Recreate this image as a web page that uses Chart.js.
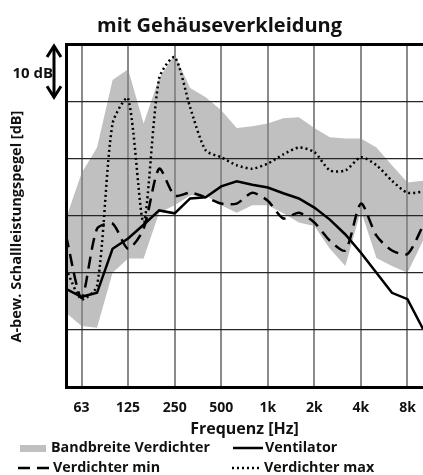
<!DOCTYPE html>
<html>
<head>
<meta charset="utf-8">
<script src="https://cdn.jsdelivr.net/npm/chart.js@4.4.1/dist/chart.umd.min.js"></script>
<style>
  html, body { margin: 0; padding: 0; background: #fff; }
</style>
</head>
<body>
<canvas id="chart" width="423" height="475"></canvas>
<script>
// third-octave bands, 50 Hz .. 10 kHz
const bands = ['50', '63', '80', '100', '125', '160', '200', '250', '315', '400', '500', '630',
  '800', '1k', '1.25k', '1.6k', '2k', '2.5k', '3.15k', '4k', '5k', '6.3k', '8k', '10k'];
const tickLabels = ['63', '125', '250', '500', '1k', '2k', '4k', '8k'];

// relative dB (no absolute scale in the original, 10 dB per grid line)
const ventilator = [17.2, 15.8, 16.5, 24.2, 26.0, 28.4, 30.9, 30.4, 33.0, 33.2, 35.1, 36.0,
  35.4, 34.9, 33.9, 33.0, 31.4, 29.3, 26.7, 23.5, 20.0, 16.5, 15.4, 10.2];
const verdichterMin = [26.5, 15.6, 27.7, 28.6, 24.2, 27.7, 38.2, 33.5, 34.0, 33.2, 32.1, 32.1,
  34.0, 32.6, 29.5, 30.5, 28.8, 25.6, 23.9, 32.1, 26.5, 23.9, 23.3, 28.2];
const verdichterMax = [20.7, 15.4, 17.7, 46.1, 50.5, 28.8, 54.0, 57.7, 48.9, 41.4, 40.2, 38.8,
  38.2, 39.1, 40.7, 41.9, 41.1, 37.9, 37.9, 40.2, 38.8, 36.1, 34.0, 34.2];
const bandUpper = [29.5, 37.4, 41.9, 53.7, 55.6, 46.1, 54.0, 58.1, 52.3, 50.7, 48.4, 45.3,
  45.6, 46.1, 47.0, 47.2, 45.3, 43.7, 43.5, 43.5, 41.9, 38.8, 35.8, 36.1];
const bandLower = [13.0, 10.7, 10.4, 20.0, 22.5, 22.5, 30.5, 31.8, 33.5, 33.5, 31.8, 30.5,
  31.8, 31.8, 30.4, 28.8, 28.2, 24.2, 21.2, 30.9, 22.6, 21.2, 20.0, 25.6];

const FONT = "'Open Sans', 'Noto Sans', sans-serif";
const bandColor = '#c0c0c0';
const chartTitle = 'mit Gehäuseverkleidung';
const xTitle = 'Frequenz [Hz]';
const yTitle = 'A-bew. Schallleistungspegel [dB]';

Chart.defaults.font.family = FONT;
Chart.defaults.font.weight = 'bold';
Chart.defaults.color = '#111';

// titles, "10 dB" marker and the two-column legend
const extras = {
  id: 'extras',
  afterDraw(chart) {
    const { ctx, chartArea, scales: { y } } = chart;
    const midX = (chartArea.left + chartArea.right) / 2;
    ctx.save();
    ctx.fillStyle = '#111';

    // chart title
    ctx.font = 'bold 20px ' + FONT;
    ctx.textAlign = 'center';
    ctx.textBaseline = 'alphabetic';
    ctx.fillText(chartTitle, 219.5, 32);

    // x axis title
    ctx.font = 'bold 16px ' + FONT;
    ctx.fillText(xTitle, midX, 434);

    // y axis title (sits a bit below the plot centre in the original)
    ctx.save();
    ctx.translate(17, (chartArea.top + chartArea.bottom) / 2 + 11);
    ctx.rotate(-Math.PI / 2);
    ctx.font = 'bold 14.5px ' + FONT;
    ctx.textBaseline = 'middle';
    ctx.fillText(yTitle, 0, 0);
    ctx.restore();

    // 10 dB double arrow
    const ax = chartArea.left - 12;
    const top = y.getPixelForValue(60) + 1;
    const bot = y.getPixelForValue(50) - 3;
    ctx.strokeStyle = '#000';
    ctx.lineWidth = 3;
    ctx.lineCap = 'butt';
    ctx.beginPath();
    ctx.moveTo(ax, top + 1);
    ctx.lineTo(ax, bot - 1);
    ctx.stroke();
    ctx.lineJoin = 'miter';
    ctx.beginPath();
    ctx.moveTo(ax - 7, top + 12);
    ctx.lineTo(ax, top + 1);
    ctx.lineTo(ax + 7, top + 12);
    ctx.moveTo(ax - 7, bot - 12);
    ctx.lineTo(ax, bot - 1);
    ctx.lineTo(ax + 7, bot - 12);
    ctx.stroke();
    ctx.font = 'bold 15px ' + FONT;
    ctx.textAlign = 'right';
    ctx.textBaseline = 'middle';
    ctx.fillText('10 dB', ax - 1, (top + bot) / 2 + 2);

    // legend
    const ds = chart.data.datasets;
    const items = [
      { ds: ds[0], x: 20, y: 448, box: true, text: 'Bandbreite Verdichter' },
      { ds: ds[2], x: 233, y: 448, text: 'Ventilator' },
      { ds: ds[3], x: 18, y: 468, text: 'Verdichter min' },
      { ds: ds[4], x: 232, y: 468, text: 'Verdichter max' }
    ];
    ctx.font = 'bold 14.3px ' + FONT;
    ctx.textAlign = 'left';
    items.forEach(it => {
      if (it.box) {
        ctx.fillStyle = it.ds.backgroundColor;
        ctx.fillRect(it.x, it.y - 3, 26, 7);
        ctx.fillStyle = '#111';
        ctx.fillText(it.text, it.x + 31, it.y);
        return;
      }
      const len = it.ds.borderDash.length && it.ds.borderDash[0] > 5 ? 33 : 30;
      ctx.strokeStyle = it.ds.borderColor;
      ctx.lineWidth = 2.5;
      ctx.setLineDash(it.ds.borderDash);
      ctx.beginPath();
      ctx.moveTo(it.x, it.y);
      ctx.lineTo(it.x + len, it.y);
      ctx.stroke();
      ctx.setLineDash([]);
      ctx.fillStyle = '#111';
      ctx.fillText(it.text, it.x + len + 2, it.y);
    });
    ctx.restore();
  }
};

new Chart(document.getElementById('chart'), {
  type: 'line',
  data: {
    labels: bands,
    datasets: [
      {
        label: 'Bandbreite Verdichter',
        data: bandUpper,
        borderWidth: 0,
        borderColor: bandColor,
        backgroundColor: bandColor,
        pointRadius: 0,
        fill: '+1',
        tension: 0
      },
      {
        label: 'Bandbreite unten',
        data: bandLower,
        borderWidth: 0,
        borderColor: bandColor,
        backgroundColor: bandColor,
        pointRadius: 0,
        fill: false,
        tension: 0
      },
      {
        label: 'Ventilator',
        data: ventilator,
        borderColor: '#000',
        borderWidth: 2.5,
        borderDash: [],
        pointRadius: 0,
        tension: 0
      },
      {
        label: 'Verdichter min',
        data: verdichterMin,
        borderColor: '#000',
        borderWidth: 2.5,
        borderDash: [12, 7],
        pointRadius: 0,
        tension: 0.25
      },
      {
        label: 'Verdichter max',
        data: verdichterMax,
        borderColor: '#000',
        borderWidth: 2.5,
        borderDash: [2, 3],
        pointRadius: 0,
        tension: 0.25
      }
    ]
  },
  options: {
    responsive: false,
    animation: false,
    devicePixelRatio: 1,
    elements: { point: { radius: 0, hoverRadius: 0, hitRadius: 0, borderWidth: 0 } },
    layout: { autoPadding: false, padding: { top: 44, right: 0, bottom: 47, left: 0 } },
    plugins: {
      legend: { display: false },
      tooltip: { enabled: false },
      title: { display: false },
      filler: { drawTime: 'beforeDraw' }
    },
    scales: {
      x: {
        offset: false,
        afterFit: s => { s.paddingLeft = 0; s.paddingRight = 0; },
        grid: {
          color: c => tickLabels.includes(bands[c.index]) ? '#8a8a8a' : 'rgba(0,0,0,0)',
          lineWidth: 2,
          drawTicks: false
        },
        border: { color: '#000', width: 3 },
        ticks: {
          autoSkip: false,
          maxRotation: 0,
          padding: 12,
          font: { size: 14, weight: 'bold' },
          color: '#111',
          callback: (v, i) => tickLabels.includes(bands[i]) ? bands[i] : ''
        }
      },
      y: {
        min: 0,
        max: 60,
        afterFit: s => { s.width = 66; },
        grid: {
          color: c => c.tick && c.tick.value === 60 ? '#000' : '#262626',
          lineWidth: c => c.tick && c.tick.value === 60 ? 3 : 1.3,
          drawTicks: false
        },
        border: { color: '#000', width: 3 },
        ticks: { stepSize: 10, display: false }
      }
    }
  },
  plugins: [extras]
});
</script>
</body>
</html>
